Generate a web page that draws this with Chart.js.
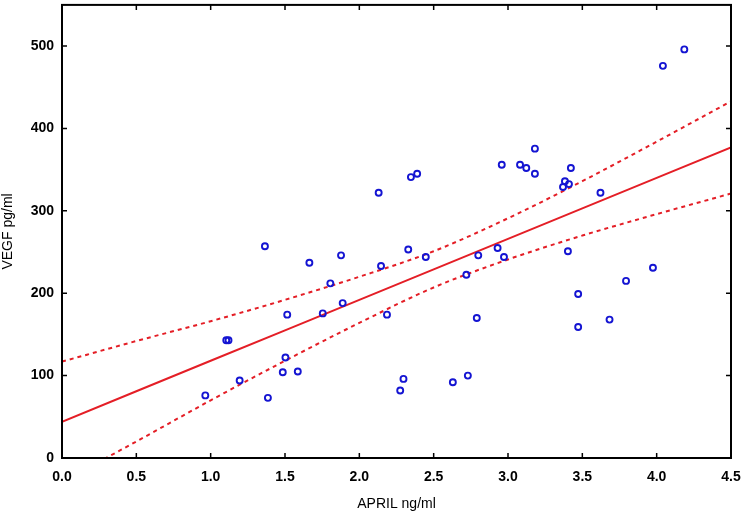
<!DOCTYPE html>
<html>
<head>
<meta charset="utf-8">
<script src="https://cdn.jsdelivr.net/npm/chart.js@4/dist/chart.umd.min.js"></script>
<style>
html,body{margin:0;padding:0;background:#fff;}
#wrap{width:742px;height:515px;position:relative;}
</style>
</head>
<body>
<div id="wrap"><canvas id="c"></canvas></div>
<script>
// Observed points (APRIL ng/ml vs VEGF pg/ml)
const aprilX = [0.964,1.105,1.12,1.195,1.365,1.385,1.485,1.503,1.515,1.586,1.664,1.754,1.805,1.877,1.888,
  2.13,2.146,2.186,2.275,2.297,2.329,2.347,2.389,2.447,2.629,2.72,2.73,2.79,2.80,2.93,2.958,2.973,
  3.081,3.123,3.181,3.181,3.37,3.383,3.41,3.403,3.423,3.472,3.472,3.622,3.683,3.794,3.975,4.042,4.186];
const vegfY = [76,143,143,94,257,73,104,122,174,105,237,175.5,212,246,188,
  322,233,174,82,96,253,341,345,244,92,222.5,100,170,246,255,356,244,
  356,352,375.5,345,329,336,332.5,251,352,199,159,322,168,215,231,476,496];

// Regression line and confidence band, read at 0.5 steps
const bandX  = [0,0.5,1.0,1.5,2.0,2.5,3.0,3.5,4.0,4.5];
const fitY   = [44,81,118,155,192,229,266,303,340,377];
const upperY = [117,142,166,192,220,251,291,336,384,433];
const lowerY = [-29,20,70,118,164,207,241,270,296,321];

const xTicks = [0,0.5,1.0,1.5,2.0,2.5,3.0,3.5,4.0,4.5];
const yTicks = [0,100,200,300,400,500];

const RED = '#e41e26';
const BLUE = '#1414d2';

const pts = aprilX.map((x,i)=>({x:x,y:vegfY[i]}));
const toXY = arr => bandX.map((x,i)=>({x:x,y:arr[i]}));

const framePlugin = {
  id:'frame',
  afterDatasetsDraw(chart){
    const {ctx, chartArea:a, scales:{x,y}} = chart;
    ctx.save();
    ctx.strokeStyle = '#000';
    ctx.lineWidth = 2;
    ctx.strokeRect(a.left, a.top, a.right-a.left, a.bottom-a.top);
    ctx.lineWidth = 1.5;
    const L = 5;
    ctx.beginPath();
    xTicks.forEach(v=>{
      const px = x.getPixelForValue(v);
      ctx.moveTo(px, a.bottom); ctx.lineTo(px, a.bottom-L);
      ctx.moveTo(px, a.top); ctx.lineTo(px, a.top+L);
    });
    yTicks.forEach(v=>{
      const py = y.getPixelForValue(v);
      ctx.moveTo(a.left, py); ctx.lineTo(a.left+L, py);
      ctx.moveTo(a.right, py); ctx.lineTo(a.right-L, py);
    });
    ctx.stroke();
    ctx.restore();
  }
};

const FONT = 'Liberation Sans, Arial, sans-serif';

new Chart(document.getElementById('c'), {
  type:'scatter',
  data:{
    datasets:[
      {label:'data', data:pts, showLine:false, pointStyle:'circle', pointRadius:3, pointHoverRadius:3,
        borderColor:BLUE, backgroundColor:'rgba(0,0,0,0)', pointBorderWidth:1.9},
      {label:'fit', data:toXY(fitY), showLine:true, borderColor:RED, borderWidth:2, pointRadius:0, fill:false, clip:0},
      {label:'upper', data:toXY(upperY), showLine:true, borderColor:RED, borderWidth:2, borderDash:[4,4],
        pointRadius:0, fill:false, cubicInterpolationMode:'monotone', clip:0},
      {label:'lower', data:toXY(lowerY), showLine:true, borderColor:RED, borderWidth:2, borderDash:[4,4],
        pointRadius:0, fill:false, cubicInterpolationMode:'monotone', clip:0}
    ]
  },
  options:{
    responsive:true, maintainAspectRatio:false, animation:false,
    devicePixelRatio:1,
    layout:{padding:{top:2,right:11,left:0,bottom:0}},
    plugins:{legend:{display:false}, tooltip:{enabled:false}},
    scales:{
      x:{type:'linear', min:0, max:4.5,
        afterBuildTicks:s=>{s.ticks = xTicks.map(v=>({value:v}));},
        afterFit:s=>{s.height = 57; s.paddingLeft = 0; s.paddingRight = 0;},
        grid:{display:false, drawTicks:false},
        border:{display:false},
        ticks:{color:'#000', padding:11, font:{family:FONT, size:14, weight:'bold'},
          callback:v=>Number(v).toFixed(1)},
        title:{display:true, text:'APRIL ng/ml', color:'#000', padding:{top:0,bottom:2},
          font:{family:FONT, size:14}}
      },
      y:{type:'linear', min:0, max:550,
        afterBuildTicks:s=>{s.ticks = yTicks.map(v=>({value:v}));},
        afterFit:s=>{s.width = 62; s.paddingTop = 0; s.paddingBottom = 0;},
        grid:{display:false, drawTicks:false},
        border:{display:false},
        ticks:{color:'#000', padding:8, font:{family:FONT, size:14, weight:'bold'}},
        title:{display:true, text:'VEGF pg/ml', color:'#000', padding:{top:0,bottom:0},
          font:{family:FONT, size:14}}
      }
    }
  },
  plugins:[framePlugin]
});
</script>
</body>
</html>
